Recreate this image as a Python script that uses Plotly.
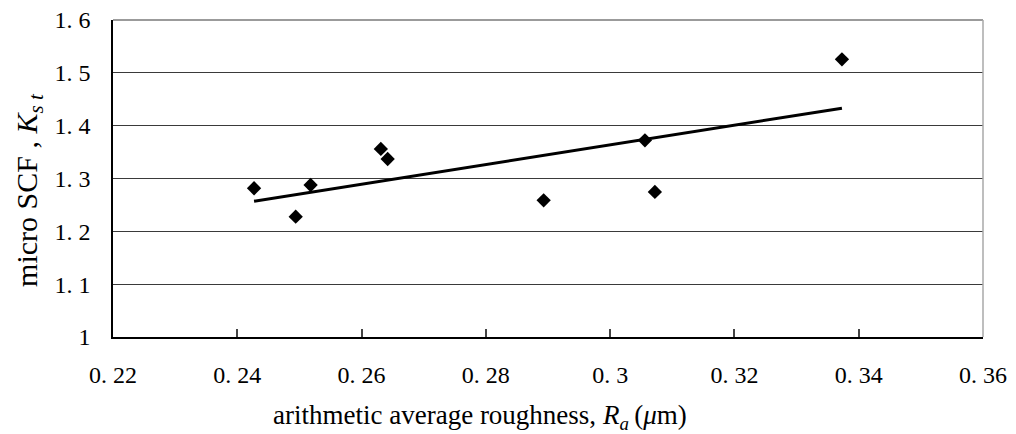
import numpy as np
import plotly.graph_objects as go

# data
ra = [0.2427, 0.2494, 0.2518, 0.2631, 0.2642, 0.2893, 0.3056, 0.3072, 0.3373]
kst = [1.2815, 1.2277, 1.2877, 1.3559, 1.3369, 1.2587, 1.3723, 1.2745, 1.5256]

x_tickvals = [0.22, 0.24, 0.26, 0.28, 0.30, 0.32, 0.34, 0.36]
x_ticktext = ["0. 22", "0. 24", "0. 26", "0. 28", "0. 3", "0. 32", "0. 34", "0. 36"]
y_tickvals = [1.0, 1.1, 1.2, 1.3, 1.4, 1.5, 1.6]
y_ticktext = ["1", "1. 1", "1. 2", "1. 3", "1. 4", "1. 5", "1. 6"]

# linear trendline (least squares) through the data
slope, intercept = np.polyfit(ra, kst, 1)
tx = [min(ra), max(ra)]
ty = [slope * v + intercept for v in tx]

fig = go.Figure()
fig.add_trace(go.Scatter(x=tx, y=ty, mode="lines",
                         line=dict(color="black", width=3), showlegend=False,
                         hoverinfo="skip"))
fig.add_trace(go.Scatter(x=ra, y=kst, mode="markers",
                         marker=dict(symbol="diamond", size=11, color="black",
                                     line=dict(color="black", width=0)),
                         showlegend=False))

tickfont = dict(family="Liberation Serif", size=24, color="black")
fig.update_layout(
    width=1008, height=426,
    margin=dict(l=105, r=33, t=12, b=97),
    paper_bgcolor="white", plot_bgcolor="white",
    xaxis=dict(range=[0.22, 0.36], tickvals=x_tickvals, ticktext=x_ticktext,
               ticks="inside", ticklen=8, tickwidth=1.5, tickcolor="#444",
               showline=True, linecolor="black", linewidth=1.5, automargin=False,
               ticklabeloverflow="allow",
               showgrid=False, zeroline=False, tickfont=tickfont, ticklabelstandoff=15),
    yaxis=dict(range=[1.0, 1.6], tickvals=y_tickvals, ticktext=y_ticktext,
               ticks="", showline=True, linecolor="black", linewidth=1.5, automargin=False,
               ticklabeloverflow="allow",
               showgrid=True, gridcolor="#3a3a3a", gridwidth=1,
               zeroline=False, tickfont=tickfont, ticklabelstandoff=16),
    shapes=[
        dict(type="line", xref="paper", yref="paper", x0=0, x1=1, y0=1, y1=1,
             line=dict(color="#7a7a7a", width=1.5)),
        dict(type="line", xref="paper", yref="paper", x0=1, x1=1, y0=0, y1=1,
             line=dict(color="#a8a8a8", width=1.5)),
    ],
    annotations=[
        dict(text="arithmetic average roughness, <i>R<sub>a</sub></i>\u2009(<i>\u03bc</i>m)",
             xref="paper", yref="paper", x=0.422, y=0, yshift=-80,
             xanchor="center", yanchor="middle", showarrow=False,
             font=dict(family="Liberation Serif", size=27, color="black")),
        dict(text="micro SCF , <i>K<sub>s t</sub></i>",
             xref="paper", yref="paper", x=0, xshift=-84, y=0.464,
             xanchor="center", yanchor="middle", textangle=-90, showarrow=False,
             font=dict(family="Liberation Serif", size=30, color="black")),
    ],
)

fig.write_html("out.html")
